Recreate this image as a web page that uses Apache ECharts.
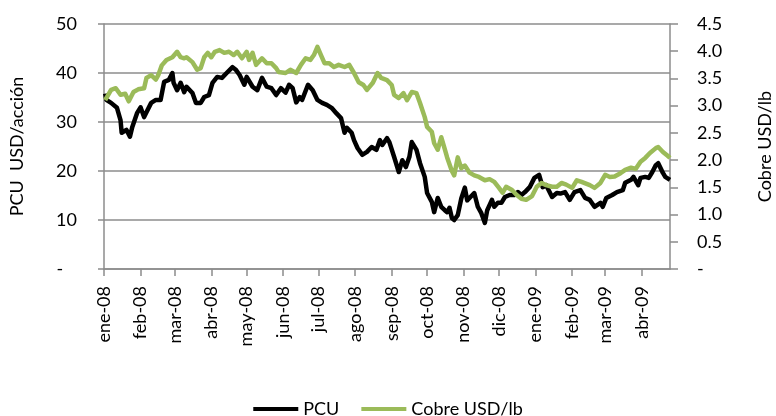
<!DOCTYPE html>
<html>
<head>
<meta charset="utf-8">
<script src="https://cdn.jsdelivr.net/npm/echarts@6/dist/echarts.min.js"></script>
<style>
  body { margin: 0; background: #fff; }
  #main { width: 776px; height: 416px; }
</style>
</head>
<body>
<div id="main"></div>
<script>
// PCU, USD por acción (eje izquierdo)
var pcuDates = [
  '2008-01-02','2008-01-03','2008-01-07','2008-01-12','2008-01-15','2008-01-16','2008-01-20','2008-01-23','2008-01-25','2008-01-29',
  '2008-02-01','2008-02-04','2008-02-06','2008-02-10','2008-02-14','2008-02-18','2008-02-21','2008-02-25','2008-02-28','2008-02-29',
  '2008-03-03','2008-03-06','2008-03-09','2008-03-11','2008-03-16','2008-03-19','2008-03-23','2008-03-26','2008-03-30',
  '2008-04-02','2008-04-06','2008-04-10','2008-04-14','2008-04-19','2008-04-22','2008-04-25','2008-04-29',
  '2008-05-01','2008-05-06','2008-05-10','2008-05-14','2008-05-18','2008-05-22','2008-05-26','2008-05-30',
  '2008-06-03','2008-06-06','2008-06-09','2008-06-12','2008-06-15','2008-06-17','2008-06-22','2008-06-26','2008-06-30',
  '2008-07-04','2008-07-08','2008-07-12','2008-07-16','2008-07-20','2008-07-23','2008-07-25','2008-07-29','2008-07-31',
  '2008-08-03','2008-08-07','2008-08-11','2008-08-15','2008-08-19','2008-08-22','2008-08-24','2008-08-28','2008-08-30',
  '2008-09-03','2008-09-07','2008-09-10','2008-09-13','2008-09-16','2008-09-18','2008-09-22','2008-09-25','2008-09-29',
  '2008-10-01','2008-10-05','2008-10-07','2008-10-10','2008-10-13','2008-10-16','2008-10-18','2008-10-20','2008-10-22','2008-10-24','2008-10-27','2008-10-30',
  '2008-11-02','2008-11-04','2008-11-08','2008-11-10','2008-11-13','2008-11-16','2008-11-19','2008-11-21','2008-11-25','2008-11-27','2008-11-30',
  '2008-12-03','2008-12-06','2008-12-10','2008-12-14','2008-12-17','2008-12-20','2008-12-23','2008-12-27','2008-12-31',
  '2009-01-04','2009-01-07','2009-01-10','2009-01-15','2009-01-19','2009-01-22','2009-01-26','2009-01-30',
  '2009-02-03','2009-02-08','2009-02-12','2009-02-16','2009-02-20','2009-02-25','2009-02-27',
  '2009-03-02','2009-03-07','2009-03-11','2009-03-16','2009-03-18','2009-03-23','2009-03-25','2009-03-29','2009-03-31',
  '2009-04-04','2009-04-07','2009-04-10','2009-04-13','2009-04-15','2009-04-19','2009-04-21','2009-04-25'
];
var pcuValues = [
  35.8, 34.5, 33.9, 32.9, 30.4, 27.8, 28.4, 27.0, 29.0, 31.8,
  33.0, 31.0, 32.0, 33.9, 34.5, 34.5, 38.2, 38.6, 40.0, 38.0,
  36.5, 38.0, 36.1, 37.2, 35.9, 33.9, 33.9, 35.1, 35.5,
  38.0, 39.2, 39.0, 40.0, 41.2, 40.6, 39.6, 37.6,
  39.2, 37.2, 36.5, 39.0, 37.2, 36.9, 35.5, 36.9,
  36.0, 37.6, 36.9, 34.0, 35.1, 34.5, 37.6, 36.5, 34.5,
  33.9, 33.5, 32.9, 31.8, 30.8, 27.8, 28.8, 27.8, 26.3,
  24.7, 23.3, 23.9, 24.9, 24.3, 26.3, 25.3, 26.7, 25.9,
  22.9, 19.8, 22.2, 20.8, 22.9, 25.9, 24.3, 21.6, 18.8,
  15.5, 13.7, 11.6, 14.5, 12.7, 12.0, 11.6, 12.5, 10.4, 10.0, 11.0, 14.4,
  16.6, 14.0, 15.0, 15.5, 12.7, 11.4, 9.4, 12.0, 14.1, 12.7, 13.5,
  13.5, 14.7, 15.1, 15.1, 15.7, 15.1, 15.7, 16.7, 18.6,
  19.2, 16.7, 17.1, 14.7, 15.5, 15.4, 15.7, 14.1,
  15.7, 16.1, 14.5, 14.1, 12.7, 13.5, 12.7,
  14.5, 15.1, 15.7, 16.1, 17.6, 18.2, 18.8, 17.1, 18.6,
  18.8, 18.6, 19.8, 21.2, 21.6, 19.6, 18.8, 18.2
];

// Cobre, USD por libra (eje derecho)
var cobreDates = [
  '2008-01-02','2008-01-07','2008-01-11','2008-01-15','2008-01-19','2008-01-22','2008-01-26','2008-01-30',
  '2008-02-04','2008-02-06','2008-02-10','2008-02-14','2008-02-16','2008-02-19','2008-02-23','2008-02-28',
  '2008-03-03','2008-03-06','2008-03-09','2008-03-11','2008-03-16','2008-03-20','2008-03-23','2008-03-26','2008-03-29',
  '2008-04-01','2008-04-04','2008-04-08','2008-04-12','2008-04-16','2008-04-20','2008-04-23','2008-04-27',
  '2008-05-01','2008-05-03','2008-05-06','2008-05-09','2008-05-14','2008-05-18','2008-05-22','2008-05-26','2008-05-28',
  '2008-06-03','2008-06-07','2008-06-12','2008-06-16','2008-06-20','2008-06-24','2008-06-27','2008-06-30',
  '2008-07-03','2008-07-06','2008-07-10','2008-07-14','2008-07-18','2008-07-23','2008-07-27','2008-07-31',
  '2008-08-04','2008-08-08','2008-08-11','2008-08-16','2008-08-20','2008-08-23','2008-08-28',
  '2008-09-01','2008-09-03','2008-09-07','2008-09-11','2008-09-14','2008-09-18','2008-09-22','2008-09-25','2008-09-29',
  '2008-10-01','2008-10-05','2008-10-07','2008-10-10','2008-10-13','2008-10-16','2008-10-18','2008-10-22','2008-10-24','2008-10-27','2008-10-30',
  '2008-11-02','2008-11-06','2008-11-10','2008-11-14','2008-11-19','2008-11-23','2008-11-27',
  '2008-12-01','2008-12-04','2008-12-07','2008-12-12','2008-12-16','2008-12-20','2008-12-24','2008-12-29',
  '2009-01-02','2009-01-06','2009-01-10','2009-01-15','2009-01-19','2009-01-23','2009-01-27',
  '2009-02-01','2009-02-05','2009-02-09','2009-02-16','2009-02-20','2009-02-25',
  '2009-03-01','2009-03-05','2009-03-09','2009-03-14','2009-03-18','2009-03-23','2009-03-27','2009-03-31',
  '2009-04-04','2009-04-08','2009-04-13','2009-04-15','2009-04-19','2009-04-23','2009-04-25'
];
var cobreValues = [
  3.10, 3.29, 3.32, 3.20, 3.22, 3.08, 3.25, 3.30,
  3.32, 3.51, 3.56, 3.48, 3.56, 3.74, 3.84, 3.89,
  3.99, 3.89, 3.87, 3.89, 3.80, 3.66, 3.69, 3.89, 3.97,
  3.89, 3.99, 4.02, 3.97, 3.99, 3.93, 3.99, 3.87,
  3.99, 3.84, 3.97, 3.75, 3.87, 3.78, 3.78, 3.69, 3.62,
  3.60, 3.66, 3.60, 3.75, 3.87, 3.84, 3.93, 4.08,
  3.93, 3.78, 3.78, 3.71, 3.75, 3.71, 3.75, 3.60,
  3.43, 3.38, 3.29, 3.42, 3.60, 3.51, 3.47,
  3.38, 3.20, 3.14, 3.23, 3.10, 3.25, 3.23, 3.05, 2.79,
  2.61, 2.52, 2.31, 2.19, 2.42, 2.20, 2.05, 1.80, 1.72, 2.05, 1.85,
  1.90, 1.77, 1.72, 1.69, 1.63, 1.65, 1.60,
  1.49, 1.40, 1.51, 1.45, 1.36, 1.29, 1.27, 1.34,
  1.51, 1.58, 1.54, 1.51, 1.51, 1.58, 1.55,
  1.49, 1.63, 1.60, 1.54, 1.49, 1.58,
  1.73, 1.69, 1.70, 1.76, 1.82, 1.86, 1.84, 1.97,
  2.04, 2.13, 2.22, 2.24, 2.15, 2.08, 2.04
];

var monthNames = ['ene','feb','mar','abr','may','jun','jul','ago','sep','oct','nov','dic'];

var FONT = 'Lato';
var FONT_SIZE = 18;
var GRAY = '#8c8c8c';

function pairs(dates, values) {
  var out = [];
  for (var i = 0; i < dates.length; i++) {
    out.push([dates[i], values[i]]);
  }
  return out;
}

function monthLabel(value) {
  var d = new Date(value);
  return monthNames[d.getMonth()] + '-' + String(d.getFullYear()).slice(2);
}

var chart = echarts.init(document.getElementById('main'), null, { renderer: 'canvas' });

var option = {
  animation: false,
  backgroundColor: '#fff',
  textStyle: { fontFamily: FONT },
  // posición fija del área de dibujo, sin reajuste automático por etiquetas
  grid: { left: 104, right: 106, top: 24, bottom: 147, containLabel: false, outerBoundsMode: 'none' },
  legend: {
    top: 395,
    left: 'center',
    itemWidth: 45,
    itemHeight: 4,
    itemGap: 22,
    icon: 'rect',
    textStyle: { fontFamily: FONT, fontSize: FONT_SIZE, color: '#000' },
    data: ['PCU', 'Cobre USD/lb']
  },
  xAxis: {
    type: 'time',
    min: '2008-01-01',
    max: '2009-04-25',
    splitNumber: 16,
    minInterval: 28 * 86400000,
    maxInterval: 31 * 86400000,
    axisLine: { show: true, lineStyle: { color: GRAY, width: 1.5 } },
    axisTick: { show: true, length: 7, lineStyle: { color: GRAY, width: 1.5 } },
    splitLine: { show: false },
    axisLabel: {
      rotate: 90,
      margin: 17,
      fontFamily: FONT,
      fontSize: FONT_SIZE,
      color: '#000',
      formatter: monthLabel
    }
  },
  yAxis: [
    {
      type: 'value',
      min: 0,
      max: 50,
      interval: 10,
      name: 'PCU  USD/acción',
      nameLocation: 'middle',
      nameRotate: 90,
      nameGap: 78,
      nameTextStyle: { fontFamily: FONT, fontSize: FONT_SIZE, color: '#000' },
      axisLine: { show: true, lineStyle: { color: GRAY, width: 1.5 } },
      axisTick: { show: true, length: 6, lineStyle: { color: GRAY, width: 1.5 } },
      splitLine: { show: true, lineStyle: { color: GRAY, width: 1.5 } },
      axisLabel: {
        margin: 27,
        fontFamily: FONT,
        fontSize: FONT_SIZE,
        color: '#000',
        formatter: function (v) { return v === 0 ? '-   ' : String(v); }
      }
    },
    {
      type: 'value',
      min: 0,
      max: 4.5,
      interval: 0.5,
      name: 'Cobre USD/lb',
      nameLocation: 'middle',
      nameRotate: 90,
      nameGap: 86,
      nameTextStyle: { fontFamily: FONT, fontSize: FONT_SIZE, color: '#000' },
      axisLine: { show: true, lineStyle: { color: GRAY, width: 1.5 } },
      axisTick: { show: true, length: 8, lineStyle: { color: GRAY, width: 1.5 } },
      splitLine: { show: false },
      axisLabel: {
        margin: 27,
        fontFamily: FONT,
        fontSize: FONT_SIZE,
        color: '#000',
        formatter: function (v) { return v === 0 ? '-' : v.toFixed(1); }
      }
    }
  ],
  series: [
    {
      name: 'PCU',
      type: 'line',
      yAxisIndex: 0,
      showSymbol: false,
      symbol: 'none',
      color: '#000000',
      lineStyle: { color: '#000000', width: 4.5, join: 'round' },
      data: pairs(pcuDates, pcuValues)
    },
    {
      name: 'Cobre USD/lb',
      type: 'line',
      yAxisIndex: 1,
      showSymbol: false,
      symbol: 'none',
      color: '#9bbb59',
      lineStyle: { color: '#9bbb59', width: 4.5, join: 'round' },
      data: pairs(cobreDates, cobreValues)
    }
  ]
};

chart.setOption(option);
</script>
</body>
</html>
